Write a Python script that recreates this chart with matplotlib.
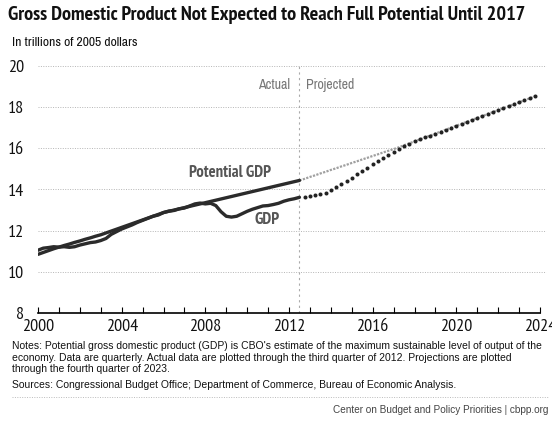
import numpy as np
import matplotlib
matplotlib.use('Agg')
import matplotlib.pyplot as plt
from matplotlib.ticker import MultipleLocator

# quarterly values, trillions of 2005 dollars
actual_start = 2000.0          # 2000Q1
proj_start = 2012.75           # 2012Q4

potential_actual = [
    10.85, 10.94, 11.03, 11.12,
    11.20, 11.28, 11.35, 11.43,
    11.50, 11.58, 11.65, 11.73,
    11.80, 11.89, 11.98, 12.07,
    12.16, 12.25, 12.34, 12.43,
    12.52, 12.61, 12.70, 12.79,
    12.88, 12.94, 13.00, 13.06,
    13.12, 13.18, 13.24, 13.30,
    13.36, 13.42, 13.48, 13.54,
    13.60, 13.66, 13.72, 13.78,
    13.84, 13.90, 13.96, 14.02,
    14.08, 14.14, 14.20, 14.26,
    14.32, 14.38, 14.44,
]
gdp_actual = [
    11.05, 11.15, 11.18, 11.22,
    11.20, 11.22, 11.19, 11.22,
    11.30, 11.36, 11.42, 11.45,
    11.52, 11.62, 11.82, 11.95,
    12.08, 12.18, 12.28, 12.40,
    12.50, 12.60, 12.70, 12.76,
    12.88, 12.95, 12.98, 13.06,
    13.10, 13.20, 13.30, 13.34,
    13.30, 13.33, 13.22, 12.92,
    12.70, 12.66, 12.70, 12.82,
    12.94, 13.04, 13.12, 13.20,
    13.22, 13.27, 13.33, 13.43,
    13.50, 13.55, 13.62,
]
potential_proj = [
    14.52,
    14.61, 14.69, 14.78, 14.86,
    14.95, 15.03, 15.12, 15.20,
    15.29, 15.37, 15.46, 15.54,
    15.63, 15.71, 15.80, 15.88,
    15.96, 16.05, 16.15, 16.24,
    16.34, 16.43, 16.53, 16.62,
    16.72, 16.81, 16.91, 17.00,
    17.10, 17.19, 17.29, 17.38,
    17.48, 17.57, 17.67, 17.76,
    17.86, 17.95, 18.05, 18.14,
    18.24, 18.33, 18.43, 18.52,
]
gdp_proj = [
    13.65,
    13.69, 13.73, 13.78, 13.85,
    13.96, 14.10, 14.26, 14.42,
    14.58, 14.74, 14.90, 15.06,
    15.22, 15.38, 15.53, 15.68,
    15.82, 15.95, 16.10, 16.22,
    16.34, 16.43, 16.53, 16.62,
    16.72, 16.81, 16.91, 17.00,
    17.10, 17.19, 17.29, 17.38,
    17.48, 17.57, 17.67, 17.76,
    17.86, 17.95, 18.05, 18.14,
    18.24, 18.33, 18.43, 18.52,
]

t_act = actual_start + np.arange(len(gdp_actual)) / 4.0
t_proj = proj_start + np.arange(len(gdp_proj)) / 4.0
split = t_act[-1]

narrow = ['Archivo Narrow', 'Roboto Condensed', 'Liberation Sans Narrow', 'DejaVu Sans']
heavy = ['PT Sans Narrow', 'Fira Sans Condensed', 'Roboto Condensed',
         'Saira SemiCondensed', 'DejaVu Sans']
plain = ['Liberation Sans', 'DejaVu Sans']
W, H = 552, 423

def px(x, y):
    return x / W, 1 - y / H

fig = plt.figure(figsize=(5.52, 4.23), dpi=100)
ax = fig.add_axes([38 / W, 1 - 313 / H, (540 - 38) / W, (313 - 66) / H])

# dotted horizontal grid
for v in range(10, 21, 2):
    ax.plot([2000, 2024.3], [v, v], color='#b5b5b5', lw=0.7, ls=(0, (1, 1.5)),
            clip_on=False, zorder=1)
ax.axvline(split, color='#aaaaaa', lw=0.8, ls=(0, (2, 3)), zorder=1)

# actual series
ax.plot(t_act, potential_actual, color='#2b2b2b', lw=2.4, solid_capstyle='round', zorder=3)
ax.plot(t_act, gdp_actual, color='#2b2b2b', lw=2.4, solid_capstyle='round', zorder=3)

# projections, joined to the last actual quarter
ax.plot(np.r_[split, t_proj], np.r_[potential_actual[-1], potential_proj],
        color='#a0a0a0', lw=1.6, ls=(0, (1, 0.6)), zorder=2)
ax.plot(t_proj, gdp_proj, ls='none', marker='o', ms=2.9, color='#222222',
        markeredgewidth=0, zorder=4)

ax.set_xlim(2000, 2024)
ax.set_ylim(8, 20)
ax.xaxis.set_major_locator(MultipleLocator(4))
ax.xaxis.set_minor_locator(MultipleLocator(1))
ax.set_yticks(range(8, 21, 2))
for s in ['top', 'right', 'left']:
    ax.spines[s].set_visible(False)
ax.spines['bottom'].set_linewidth(1.2)
ax.tick_params(axis='x', which='both', direction='in', length=4, width=0.8, pad=4)
ax.tick_params(axis='y', length=0, pad=10)
for lab in ax.get_xticklabels() + ax.get_yticklabels():
    lab.set_fontfamily(heavy)
    lab.set_fontsize(13)
    lab.set_color('#111111')

ax.text(2009.2, 14.8, 'Potential GDP', family=heavy, fontsize=12, weight='bold',
        color='#555555', ha='center', va='center')
ax.text(2010.95, 12.5, 'GDP', family=heavy, fontsize=12, weight='bold',
        color='#555555', ha='center', va='center')
ax.text(split - 0.45, 19.1, 'Actual', family=narrow, fontsize=10, color='#777777',
        ha='right', va='center')
ax.text(split + 0.3, 19.1, 'Projected', family=narrow, fontsize=10, color='#777777',
        ha='left', va='center')

fig.text(*px(8, 15), 'Gross Domestic Product Not Expected to Reach Full Potential Until 2017',
         family=heavy, fontsize=14.6, weight='bold', color='#111111', va='center')
fig.text(*px(12, 42), 'In trillions of 2005 dollars', family=narrow, fontsize=9.8,
         color='#111111', va='center')

notes = ("Notes: Potential gross domestic product (GDP) is CBO's estimate of the maximum "
         "sustainable level of output of the\neconomy. Data are quarterly. Actual data are "
         "plotted through the third quarter of 2012. Projections are plotted\nthrough the "
         "fourth quarter of 2023.")
fig.text(*px(12, 341), notes, family=plain, fontsize=7.45, color='#111111', va='top',
         linespacing=1.2)
fig.text(*px(12, 385), 'Sources: Congressional Budget Office; Department of Commerce, '
         'Bureau of Economic Analysis.', family=plain, fontsize=7.45, color='#111111',
         va='center')
fig.add_artist(plt.Line2D([12 / W, 548 / W], [1 - 397 / H] * 2, color='#bbbbbb',
                          lw=0.7, ls=(0, (1, 1.5))))
fig.text(*px(548, 410), 'Center on Budget and Policy Priorities | cbpp.org', family=plain,
         fontsize=7.2, color='#444444', ha='right', va='center')

fig.savefig('out.png', dpi=100)
